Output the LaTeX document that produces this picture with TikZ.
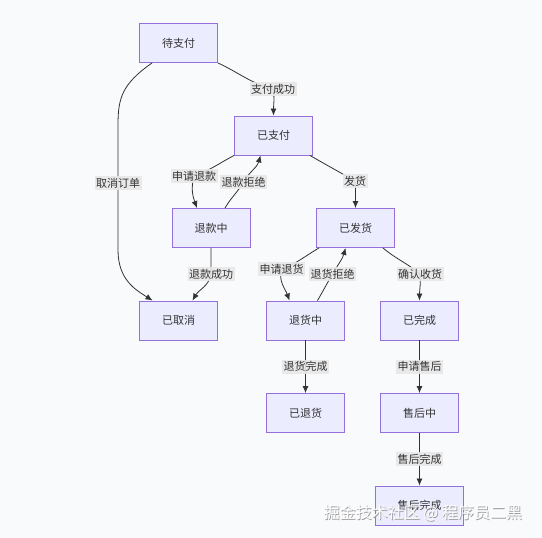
\documentclass[tikz,border=0pt]{standalone}
\usepackage{fontspec}
\newfontfamily\cjk{Noto Sans CJK SC}
\usepackage{tikz}
\usetikzlibrary{arrows.meta}
\definecolor{bgc}{HTML}{F9FAFC}
\definecolor{nodefill}{HTML}{ECECFF}
\definecolor{nodeline}{HTML}{9370DB}
\definecolor{ink}{HTML}{333333}
\definecolor{lblbg}{HTML}{E8E8E8}

\begin{document}
\begin{tikzpicture}[x=1pt,y=-1pt,font=\cjk\fontsize{11}{13}\selectfont,text=ink,
  state/.style={draw=nodeline,fill=nodefill,line width=0.9pt,minimum width=78pt,minimum height=39pt,inner sep=0pt},
  lbl/.style={fill=lblbg,fill opacity=0.9,text opacity=1,inner xsep=1.5pt,inner ysep=2pt},
  arr/.style={draw=ink,line width=0.8pt,-{Latex[length=7pt,width=6pt]}}]
 \fill[bgc] (0,0) rectangle (542,538);
 \useasboundingbox (0,0) rectangle (542,538);
 % states
 \node[state] (dzf) at (178.5,43) {待支付};
 \node[state] (yzf) at (273.5,135.5) {已支付};
 \node[state] (tkz) at (211,228) {退款中};
 \node[state] (yfh) at (355.5,228) {已发货};
 \node[state] (yqx) at (178.5,320.5) {已取消};
 \node[state] (thz) at (305.5,320.5) {退货中};
 \node[state] (ywc) at (419.5,320.5) {已完成};
 \node[state] (ytz) at (305.5,413) {已退货};
 \node[state] (shz) at (419.5,413) {售后中};
 \node[state,minimum width=88pt] (shwc) at (419.5,505.5) {售后完成};
 % label spots
 \coordinate (l1) at (273,89);
 \coordinate (l2) at (118,183);
 \coordinate (l3) at (194,176);
 \coordinate (l4) at (243.5,182);
 \coordinate (l5) at (355,181);
 \coordinate (l6) at (211,274);
 \coordinate (l7) at (281.5,269);
 \coordinate (l8) at (332.5,274);
 \coordinate (l9) at (420,274);
 % transitions
 \draw[arr] (dzf.south east) to[out=-25,in=165] (l1) to[out=-80,in=90] (yzf.north);
 \draw[arr] ([xshift=13pt]dzf.south west) .. controls (122,84) and (118,98) .. (118,125) -- (l2) -- (118,250) .. controls (118,280) and (136,290) .. ([xshift=-26pt]yqx.north);
 \draw[arr] (yzf.south west) to[out=-152,in=20] (l3) to[out=-105,in=110] ([xshift=-14pt]tkz.north);
 \draw[arr] ([xshift=14pt]tkz.north) to[out=60,in=-120] (l4) to[out=60,in=-105] ([xshift=-13pt]yzf.south);
 \draw[arr] ([xshift=-3pt]yzf.south east) to[out=-30,in=150] (l5) to[out=-85,in=90] (yfh.north);
 \draw[arr] (tkz.south) -- (l6) to[out=-100,in=60] ([xshift=14pt]yqx.north);
 \draw[arr] ([xshift=3pt]yfh.south west) to[out=-150,in=20] (l7) to[out=-105,in=110] ([xshift=-16pt]thz.north);
 \draw[arr] ([xshift=12pt]thz.north) to[out=60,in=-120] (l8) to[out=60,in=-105] ([xshift=-10pt]yfh.south);
 \draw[arr] ([xshift=-12pt]yfh.south east) to[out=-40,in=140] (l9) to[out=-85,in=90] (ywc.north);
 \draw[arr] (thz) -- node[lbl] {退货完成} (ytz);
 \draw[arr] (ywc) -- node[lbl] {申请售后} (shz);
 \draw[arr] (shz) -- node[lbl] {售后完成} (shwc);
 % labels
 \node[lbl] at (l1) {支付成功};
 \node[lbl] at (l2) {取消订单};
 \node[lbl] at (l3) {申请退款};
 \node[lbl] at (l4) {退款拒绝};
 \node[lbl] at (l5) {发货};
 \node[lbl] at (l6) {退款成功};
 \node[lbl] at (l7) {申请退货};
 \node[lbl] at (l8) {退货拒绝};
 \node[lbl] at (l9) {确认收货};
 % watermark
 \node[text=gray!80,font=\cjk\fontsize{16}{18}\selectfont] (wms) at (423.8,513.8) {掘金技术社区 @ 程序员二黑};
 \node[text=white,font=\cjk\fontsize{16}{18}\selectfont] (wm) at (423,513) {掘金技术社区 @ 程序员二黑};
\end{tikzpicture}
\end{document}
